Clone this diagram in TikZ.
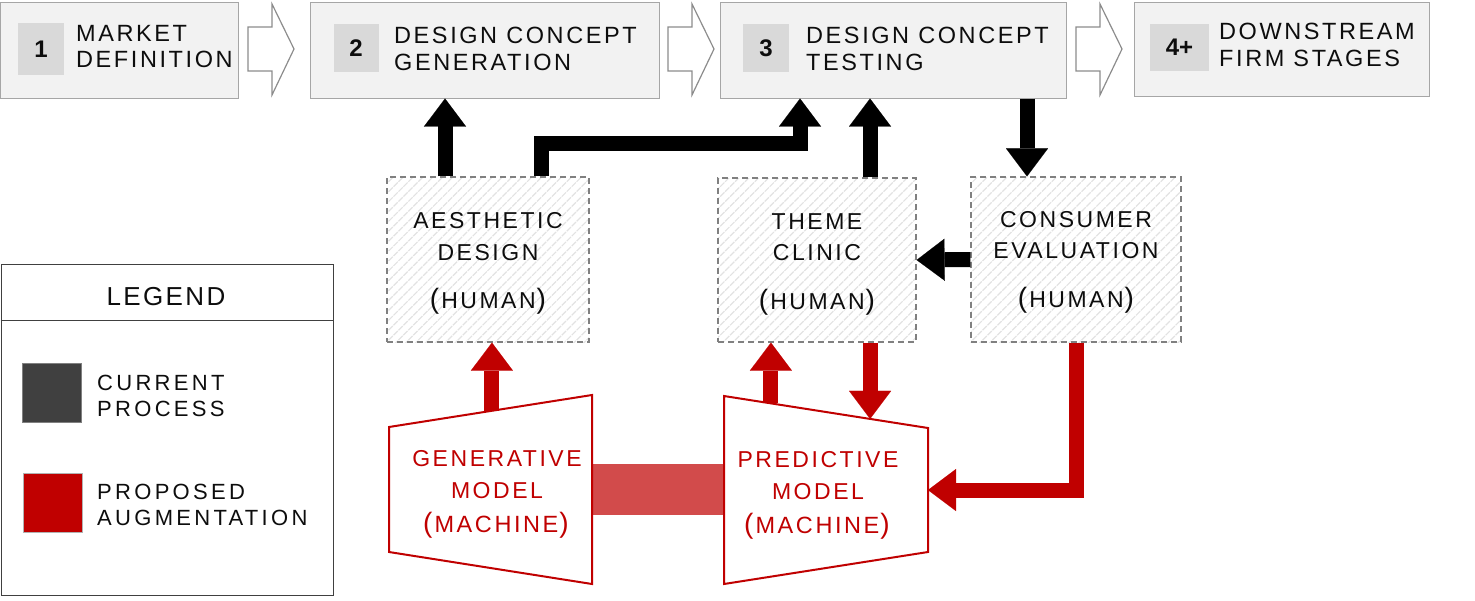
\documentclass[tikz,border=0pt]{standalone}
\usepackage{fontspec}
\setmainfont{Liberation Sans}
\newfontfamily\trkA{Liberation Sans}[LetterSpace=11]
\newfontfamily\trkB{Liberation Sans}[LetterSpace=15]
\newfontfamily\trkC{Liberation Sans}[LetterSpace=9]
\usetikzlibrary{arrows.meta,patterns.meta,calc}
\definecolor{boxfill}{HTML}{F2F2F2}
\definecolor{boxline}{HTML}{A6A6A6}
\definecolor{arrline}{HTML}{8C8C8C}
\definecolor{numfill}{HTML}{D9D9D9}
\definecolor{augred}{HTML}{C00000}
\definecolor{bandred}{HTML}{D24B4B}
\definecolor{dashgray}{HTML}{808080}
\definecolor{hatchgray}{HTML}{E2E2E2}
\definecolor{darkleg}{HTML}{404040}
\definecolor{txt}{HTML}{0D0D0D}
\newcommand{\lpar}{{\fontsize{28}{31}\selectfont(}\kern2pt}
\newcommand{\rpar}{\kern1pt{\fontsize{28}{31}\selectfont)}}
\newcommand{\topstrut}{\rule{0pt}{24.5pt}}
\begin{document}
\begin{tikzpicture}[x=1pt,y=-1pt,
  stage/.style={draw=boxline, fill=boxfill, line width=1pt, inner sep=0pt},
  numsq/.style={fill=numfill, inner sep=0pt, font=\bfseries\fontsize{24}{26}\selectfont, text=txt},
  stagetxt/.style={anchor=west, align=left, inner sep=0pt, text=txt, font=\trkA\fontsize{23.5}{26.5}\selectfont},
  hollow/.style={draw=arrline, fill=white, line width=1.2pt, line join=miter},
  human/.style={draw=dashgray, dash pattern=on 6pt off 4pt, line width=1.2pt,
     pattern={Lines[angle=45,distance=7pt,line width=1.2pt]}, pattern color=hatchgray,
     align=center, inner sep=0pt, text=txt, font=\trkA\fontsize{23}{31.5}\selectfont},
  blkarrow/.style={line width=15pt, line join=miter, draw=black,
     -{Triangle[width=42pt,length=28pt,line width=0.1pt]}},
  redarrow/.style={blkarrow, draw=augred, color=augred},
  trap/.style={draw=augred, line width=2pt, fill=white, line join=miter},
  traptxt/.style={align=center, inner sep=0pt, text=augred, font=\trkA\fontsize{23}{32}\selectfont},
  legtxt/.style={anchor=west, align=left, inner sep=0pt, text=txt, font=\trkB\fontsize{22}{26}\selectfont}
]
\useasboundingbox (0,0) rectangle (1475,600);

% ---- top stages
\node[stage, minimum width=238pt, minimum height=96pt] (s1) at (119,50) {};
\node[stage, minimum width=349pt, minimum height=96pt] (s2) at (484.5,50) {};
\node[stage, minimum width=346pt, minimum height=96pt] (s3) at (893,50) {};
\node[stage, minimum width=295pt, minimum height=94pt] (s4) at (1281.5,49) {};

\node[numsq, minimum width=46pt, minimum height=52pt] (n1) at (41,49) {1};
\node[numsq, minimum width=45pt, minimum height=48pt] (n2) at (356,48) {2};
\node[numsq, minimum width=46pt, minimum height=48pt] (n3) at (766,48) {3};
\node[numsq, minimum width=59pt, minimum height=47pt] (n4) at (1179.5,47.5) {4+};

\node[stagetxt] (t1) at (76,46.5) {MARKET\\DEFINITION};
\node[stagetxt] (t2) at (394,49) {DESIGN CONCEPT\\GENERATION};
\node[stagetxt] (t3) at (806,49) {DESIGN CONCEPT\\TESTING};
\node[stagetxt] (t4) at (1219,45) {DOWNSTREAM\\FIRM STAGES};

% hollow arrows between stages
\draw[hollow] (248,27) -- (272,27) -- (272,4) -- (294,49) -- (272,95) -- (272,71) -- (248,71) -- cycle;
\draw[hollow] (668,27) -- (692,27) -- (692,4) -- (714,49) -- (692,95) -- (692,71) -- (668,71) -- cycle;
\draw[hollow] (1076,27) -- (1100,27) -- (1100,4) -- (1122,49) -- (1100,95) -- (1100,71) -- (1076,71) -- cycle;

% ---- human boxes
\node[human, minimum width=202pt, minimum height=165pt] (aes) at (488,259.5) {\topstrut AESTHETIC\\DESIGN\\[17pt]\lpar HUMAN\rpar};
\node[human, minimum width=198pt, minimum height=164pt] (theme) at (817,260) {\topstrut THEME\\CLINIC\\[17pt]\lpar HUMAN\rpar};
\node[human, minimum width=210pt, minimum height=165pt] (cons) at (1076,259.5) {\rule{0pt}{21pt}CONSUMER\\EVALUATION\\[17pt]\lpar HUMAN\rpar};

% ---- black arrows
\draw[blkarrow] ([xshift=-43pt]aes.north) -- ([xshift=-43pt]aes.north |- s2.south);
\draw[blkarrow] ([xshift=53pt]aes.north) -- ++(0,-33) -| ([xshift=-93pt]s3.south);
\draw[blkarrow] ([xshift=53pt]theme.north) -- ([xshift=53pt]theme.north |- s3.south);
\draw[blkarrow] ([xshift=-49pt]cons.north |- s3.south) -- ([xshift=-49pt]cons.north);
\draw[blkarrow] (cons.west) -- (theme.east);

% ---- machine models
\coordinate (gTL) at (389,427); \coordinate (gTR) at (592,395);
\coordinate (gBR) at (592,584); \coordinate (gBL) at (389,552);
\coordinate (pTL) at (724,396); \coordinate (pTR) at (928,428);
\coordinate (pBR) at (928,552); \coordinate (pBL) at (724,584);

\fill[bandred] ($(gTR)!0.5!(gBR)+(0,-26)$) rectangle ($(pTL)!0.5!(pBL)+(0,25)$);
\draw[trap] (gTL) -- (gTR) -- (gBR) -- (gBL) -- cycle;
\draw[trap] (pTL) -- (pTR) -- (pBR) -- (pBL) -- cycle;

\node[traptxt] (gen) at (497,475) {GENERATIVE\\MODEL};
\node[traptxt, font=\trkA\fontsize{23.5}{30}\selectfont] (genm) at (496,525) {\lpar MACHINE\rpar};
\node[traptxt] (pred) at (818,476) {PREDICTIVE\\MODEL};
\node[traptxt, font=\trkA\fontsize{23.5}{30}\selectfont] (predm) at (817,526) {\lpar MACHINE\rpar};

% ---- red arrows
\coordinate (g6) at ($(gTL)!0.507!(gTR)$);
\coordinate (p7) at ($(pTL)!0.23!(pTR)$);
\coordinate (p8) at ($(pTL)!0.716!(pTR)$);
\coordinate (p9) at ($(pTR)!0.5!(pBR)$);
\draw[redarrow] (g6) -- (g6 |- aes.south);
\draw[redarrow] (p7) -- (p7 |- theme.south);
\draw[redarrow] (p8 |- theme.south) -- (p8);
\draw[redarrow] (cons.south) |- (p9);

% ---- legend
\node[draw=darkleg, line width=1pt, minimum width=332pt, minimum height=331pt, inner sep=0pt] (leg) at (167,429.5) {};
\draw[darkleg, line width=1pt] ([yshift=-57pt]leg.north west) -- ([yshift=-57pt]leg.north east);
\node[inner sep=0pt, text=txt, font=\trkC\fontsize{26}{28}\selectfont] (legt) at (166,297) {LEGEND};
\node[fill=darkleg, draw=gray, line width=0.8pt, minimum size=59pt, inner sep=0pt] (sqc) at (52,393) {};
\node[fill=augred, draw=gray!60, line width=0.8pt, minimum size=59pt, inner sep=0pt] (sqp) at (53,503) {};
\node[legtxt] (lc) at (97,396) {CURRENT\\PROCESS};
\node[legtxt] (lp) at (97,505) {PROPOSED\\AUGMENTATION};
\end{tikzpicture}
\end{document}
